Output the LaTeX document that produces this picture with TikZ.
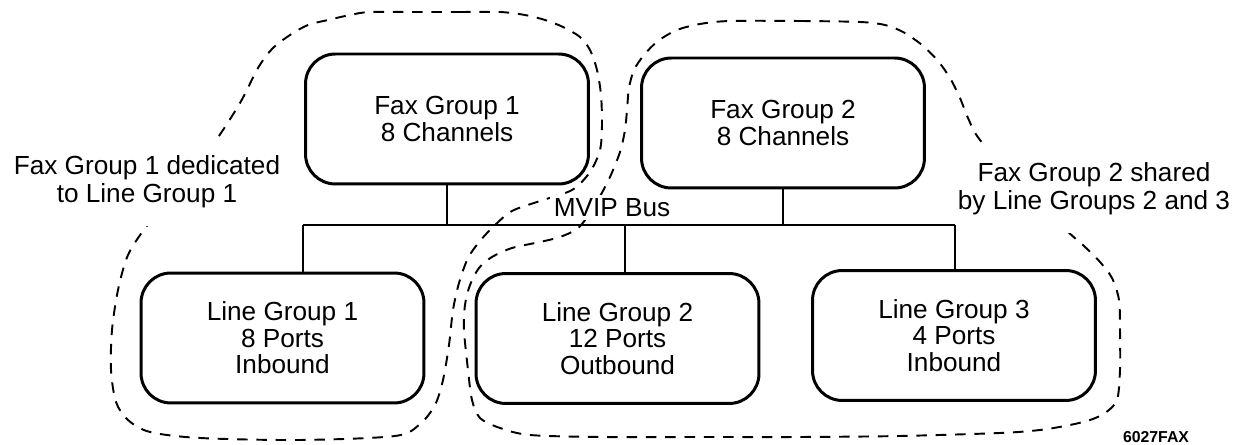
\documentclass[tikz,border=0pt]{standalone}
\usepackage{fontspec}
\setmainfont{Liberation Sans}
\tikzset{grp/.style={rectangle, rounded corners=17pt, line width=1.7pt, draw, align=center,
   minimum width=5.66cm, minimum height=2.6cm, font=\fontsize{14.9}{15}\selectfont}}
\tikzset{note/.style={fill=white, align=center, inner xsep=3pt, inner ysep=10pt,
   font=\fontsize{14.9}{16}\selectfont}}
\tikzset{bus/.style={line width=1.5pt}}
\tikzset{zone/.style={line width=1.1pt, dash pattern=on 6pt off 5pt}}

\begin{document}
\begin{tikzpicture}[x=0.02cm, y=-0.02cm]

    \useasboundingbox (0,0) rectangle (1249,445);

    \draw[zone] plot[smooth cycle] coordinates {
      (417,12) (460,12) (500,12) (525,15) (545,20) (563,27) (580,37) (590,50)
      (597,70) (601,95) (602,125) (600,150) (590,172) (572,190) (540,201)
      (512,211) (494,226) (480,241) (468,258) (459,283) (453,310) (449,345)
      (443,380) (435,405) (420,424) (395,436) (300,440) (200,438) (150,432)
      (128,420) (116,402) (111,370) (112,330) (118,290) (128,255) (146,227)
      (180,185) (214,143) (240,103) (258,68) (272,49) (290,35) (308,25)
      (328,20) (350,15) (370,12)};
    \draw[zone] plot[smooth cycle] coordinates {
      (730,21) (800,21) (860,22) (885,25) (903,32) (922,45) (938,61) (950,78)
      (960,98) (968,118) (980,140) (1020,185) (1066,230) (1084,246) (1100,262)
      (1112,278) (1119,300) (1120,330) (1120,370) (1117,400) (1105,413)
      (1090,420) (1070,425) (1040,430) (1000,433) (900,436) (800,437)
      (700,437) (600,437) (530,435) (500,428) (480,418) (472,400) (468,370)
      (464,330) (465,305) (470,285) (479,268) (492,257) (512,248) (540,242)
      (560,237) (577,229) (588,216) (598,200) (610,177) (620,152) (625,130)
      (627,110) (629,88) (634,70) (644,55) (658,41) (677,30) (700,24)};

    \node[grp] (fax1) at (447,119) {Fax Group 1\\8 Channels};
    \node[grp] (fax2) at (783,123) {Fax Group 2\\8 Channels};
    \node[grp] (lg1) at (282.5,338) {Line Group 1\\8 Ports\\Inbound};
    \node[grp] (lg2) at (617.5,338.5) {Line Group 2\\12 Ports\\Outbound};
    \node[grp] (lg3) at (954,335.5) {Line Group 3\\4 Ports\\Inbound};

    \node[note] (dedic) at (147,182) {Fax Group 1 dedicated\\to Line Group 1};
    \node[note] (shared) at (1094,189) {Fax Group 2 shared\\by Line Groups 2 and 3};
    \node[fill=white, inner sep=2pt, font=\fontsize{14.9}{15}\selectfont] (mvip) at (612,207.5) {MVIP Bus};
    \node[font=\fontsize{9}{9}\selectfont\bfseries] (figid) at (1156,437.5) {6027FAX};

    \coordinate (bus-w) at (303,225);
    \coordinate (bus-e) at (955,225);
    \coordinate (tap2) at (625,225);
    \draw[bus] (bus-w) -- (bus-e);
    \draw[bus] (fax1.south) -- (fax1.south |- bus-w);
    \draw[bus] (fax2.south) -- (fax2.south |- bus-w);
    \draw[bus] (bus-w) -- (bus-w |- lg1.north);
    \draw[bus] (tap2) -- (tap2 |- lg2.north);
    \draw[bus] (bus-e) -- (bus-e |- lg3.north);

\end{tikzpicture}
\end{document}
